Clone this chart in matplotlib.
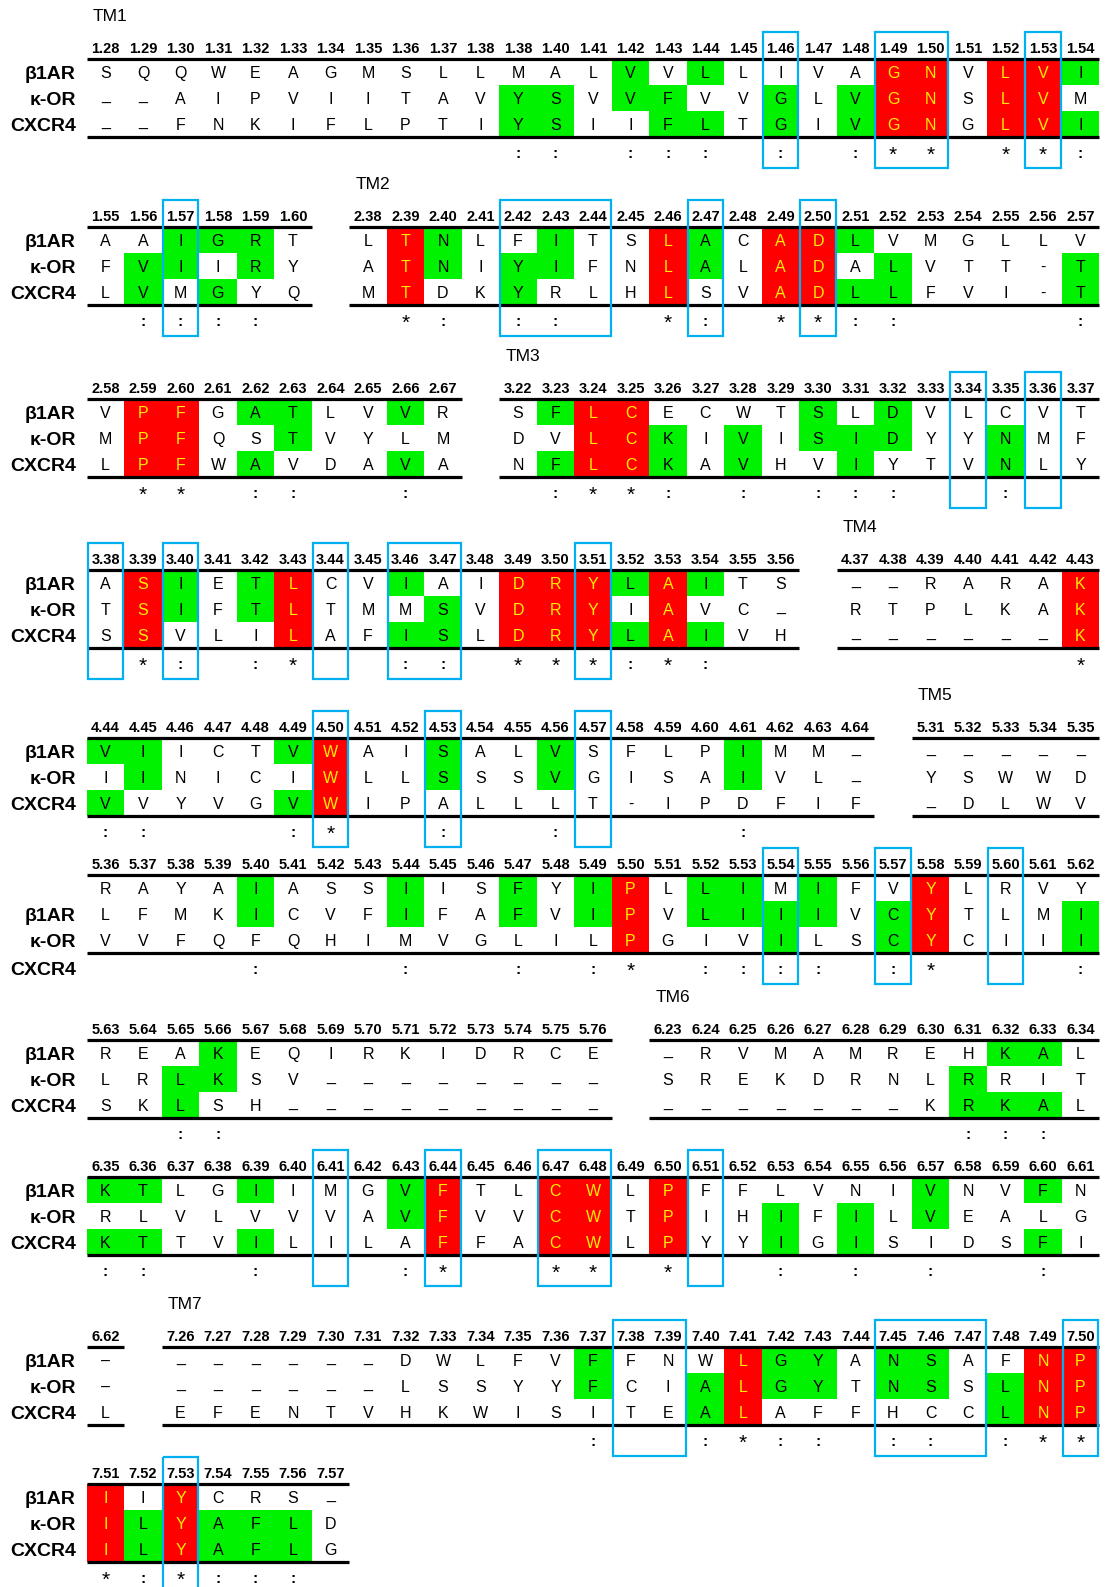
import matplotlib
matplotlib.use("Agg")
import matplotlib.pyplot as plt
from matplotlib.patches import Rectangle

# ---------------------------------------------------------------------------
# Alignment data: one group of named lists per alignment segment.
# Residue rows are β1AR, κ-OR, CXCR4.  Fill codes: g = similar, r = identical.
# ---------------------------------------------------------------------------
NAMES = ["β1AR", "κ-OR", "CXCR4"]

SEG1_POS = ("1.28 1.29 1.30 1.31 1.32 1.33 1.34 1.35 1.36 1.37 1.38 1.38 1.40 1.41 "
            "1.42 1.43 1.44 1.45 1.46 1.47 1.48 1.49 1.50 1.51 1.52 1.53 1.54").split()
SEG1_SEQ = ["SQQWEAGMSLLMALVVLLIVAGNVLVI",
            "__AIPVIITAVYSVVFVVGLVGNSLVM",
            "__FNKIFLPTIYSIIFLTGIVGNGLVI"]
SEG1_FILL = ["..............g.g....rr.rrg",
             "...........gg.gg..g.grr.rr.",
             "...........gg..gg.g.grr.rrg"]
SEG1_CONS = "           :: ::: : :** **:"
SEG1_BOX = [(18, 18), (21, 22), (25, 25)]

SEG2_POS = "1.55 1.56 1.57 1.58 1.59 1.60".split()
SEG2_SEQ = ["AAIGRT", "FVIIRY", "LVMGYQ"]
SEG2_FILL = ["..ggg.", ".gg.g.", ".g.g.."]
SEG2_CONS = " :::: "
SEG2_BOX = [(2, 2)]

SEG3_POS = ("2.38 2.39 2.40 2.41 2.42 2.43 2.44 2.45 2.46 2.47 2.48 2.49 2.50 2.51 "
            "2.52 2.53 2.54 2.55 2.56 2.57").split()
SEG3_SEQ = ["LTNLFITSLACADLVMGLLV",
            "ATNIYIFNLALADALVTT-T",
            "MTDKYRLHLSVADLLFVI-T"]
SEG3_FILL = [".rg..g..rg.rrg......",
             ".rg.gg..rg.rr.g....g",
             ".r..g...r..rrgg....g"]
SEG3_CONS = " *: ::  *: **::    :"
SEG3_BOX = [(4, 6), (9, 9), (12, 12)]

SEG4_POS = "2.58 2.59 2.60 2.61 2.62 2.63 2.64 2.65 2.66 2.67".split()
SEG4_SEQ = ["VPFGATLVVR", "MPFQSTVYLM", "LPFWAVDAVA"]
SEG4_FILL = [".rr.gg..g.", ".rr..g....", ".rr.g...g."]
SEG4_CONS = " ** ::  : "
SEG4_BOX = []

SEG5_POS = ("3.22 3.23 3.24 3.25 3.26 3.27 3.28 3.29 3.30 3.31 3.32 3.33 3.34 3.35 "
            "3.36 3.37").split()
SEG5_SEQ = ["SFLCECWTSLDVLCVT", "DVLCKIVISIDYYNMF", "NFLCKAVHVIYTVNLY"]
SEG5_FILL = [".grr....g.g.....", "..rrg.g.ggg..g..", ".grrg.g..g...g.."]
SEG5_CONS = " :**: : :::  :  "
SEG5_BOX = [(12, 12), (14, 14)]

SEG6_POS = ("3.38 3.39 3.40 3.41 3.42 3.43 3.44 3.45 3.46 3.47 3.48 3.49 3.50 3.51 "
            "3.52 3.53 3.54 3.55 3.56").split()
SEG6_SEQ = ["ASIETLCVIAIDRYLAITS", "TSIFTLTMMSVDRYIAVC_", "SSVLILAFISLDRYLAIVH"]
SEG6_FILL = [".rg.gr..g..rrrgrg..", ".rg.gr...g.rrr.r...", ".r...r..gg.rrrgrg.."]
SEG6_CONS = " *: :*  :: ***:*:  "
SEG6_BOX = [(0, 0), (2, 2), (6, 6), (8, 9), (13, 13)]

SEG7_POS = "4.37 4.38 4.39 4.40 4.41 4.42 4.43".split()
SEG7_SEQ = ["__RARAK", "RTPLKAK", "______K"]
SEG7_FILL = ["......r", "......r", "......r"]
SEG7_CONS = "      *"
SEG7_BOX = []

SEG8_POS = ("4.44 4.45 4.46 4.47 4.48 4.49 4.50 4.51 4.52 4.53 4.54 4.55 4.56 4.57 "
            "4.58 4.59 4.60 4.61 4.62 4.63 4.64").split()
SEG8_SEQ = ["VIICTVWAISALVSFLPIMM_", "IINICIWLLSSSVGISAIVL_", "VVYVGVWIPALLLT-IPDFIF"]
SEG8_FILL = ["gg...gr..g..g....g...", ".g....r..g..g....g...", "g....gr.............."]
SEG8_CONS = "::   :*  :  :    :   "
SEG8_BOX = [(6, 6), (9, 9), (13, 13)]

SEG9_POS = "5.31 5.32 5.33 5.34 5.35".split()
SEG9_SEQ = ["_____", "YSWWD", "_DLWV"]
SEG9_FILL = [".....", ".....", "....."]
SEG9_CONS = "     "
SEG9_BOX = []

SEG10_POS = ("5.36 5.37 5.38 5.39 5.40 5.41 5.42 5.43 5.44 5.45 5.46 5.47 5.48 5.49 "
             "5.50 5.51 5.52 5.53 5.54 5.55 5.56 5.57 5.58 5.59 5.60 5.61 5.62").split()
SEG10_SEQ = ["RAYAIASSIISFYIPLLIMIFVYLRVY",
             "LFMKICVFIFAFVIPVLIIIVCYTLMI",
             "VVFQFQHIMVGLILPGIVILSCYCIII"]
SEG10_FILL = ["....g...g..g.gr.gg.g..r....",
              "....g...g..g.gr.gggg.gr...g",
              "..............r...g..gr...g"]
SEG10_CONS = "    :   :  : :* :::: :*   :"
SEG10_BOX = [(18, 18), (21, 21), (24, 24)]

SEG11_POS = ("5.63 5.64 5.65 5.66 5.67 5.68 5.69 5.70 5.71 5.72 5.73 5.74 5.75 "
             "5.76").split()
SEG11_SEQ = ["REAKEQIRKIDRCE", "LRLKSV________", "SKLSH_________"]
SEG11_FILL = ["...g..........", "..gg..........", "..g..........."]
SEG11_CONS = "  ::          "
SEG11_BOX = []

SEG12_POS = "6.23 6.24 6.25 6.26 6.27 6.28 6.29 6.30 6.31 6.32 6.33 6.34".split()
SEG12_SEQ = ["_RVMAMREHKAL", "SREKDRNLRRIT", "_______KRKAL"]
SEG12_FILL = [".........gg.", "........g...", "........ggg."]
SEG12_CONS = "        ::: "
SEG12_BOX = []

SEG13_POS = ("6.35 6.36 6.37 6.38 6.39 6.40 6.41 6.42 6.43 6.44 6.45 6.46 6.47 6.48 "
             "6.49 6.50 6.51 6.52 6.53 6.54 6.55 6.56 6.57 6.58 6.59 6.60 6.61").split()
SEG13_SEQ = ["KTLGIIMGVFTLCWLPFFLVNIVNVFN",
             "RLVLVVVAVFVVCWTPIHIFILVEALG",
             "KTTVILILAFFACWLPYYIGISIDSFI"]
SEG13_FILL = ["gg..g...gr..rr.r......g..g.",
              "........gr..rr.r..g.g.g....",
              "gg..g....r..rr.r..g.g....g."]
SEG13_CONS = "::  :   :*  ** *  : : :  : "
SEG13_BOX = [(6, 6), (9, 9), (12, 13), (16, 16)]

SEG14_POS = ["6.62"]
SEG14_SEQ = ["–", "–", "L"]
SEG14_FILL = [".", ".", "."]
SEG14_CONS = " "
SEG14_BOX = []

SEG15_POS = ("7.26 7.27 7.28 7.29 7.30 7.31 7.32 7.33 7.34 7.35 7.36 7.37 7.38 7.39 "
             "7.40 7.41 7.42 7.43 7.44 7.45 7.46 7.47 7.48 7.49 7.50").split()
SEG15_SEQ = ["______DWLFVFFNWLGYANSAFNP",
             "______LSSYYFCIALGYTNSSLNP",
             "EFENTVHKWISITEALAFFHCCLNP"]
SEG15_FILL = ["...........g...rgg.gg..rr",
              "...........g..grgg.gg.grr",
              "..............gr......grr"]
SEG15_CONS = "           :  :*:: :: :**"
SEG15_BOX = [(12, 13), (19, 21), (24, 24)]

SEG16_POS = "7.51 7.52 7.53 7.54 7.55 7.56 7.57".split()
SEG16_SEQ = ["IIYCRS_", "ILYAFLD", "ILYAFLG"]
SEG16_FILL = ["r.r....", "rgrggg.", "rgrggg."]
SEG16_CONS = "*:*::: "
SEG16_BOX = [(2, 2)]

# ---------------------------------------------------------------------------
# Page layout (pixels): top rule of each block, and where each segment sits
# ---------------------------------------------------------------------------
W, H = 1105, 1587
X0, DX = 105.5, 37.5        # centre of grid column 0 and column pitch
ROW_H = 26
BLOCK_TOPS = [59, 227, 399, 570, 738, 875, 1040, 1177, 1347, 1484]

# (block, first grid column, segment, helix label)
LAYOUT = [
    (0, 0, (SEG1_POS, SEG1_SEQ, SEG1_FILL, SEG1_CONS, SEG1_BOX), "TM1"),
    (1, 0, (SEG2_POS, SEG2_SEQ, SEG2_FILL, SEG2_CONS, SEG2_BOX), None),
    (1, 7, (SEG3_POS, SEG3_SEQ, SEG3_FILL, SEG3_CONS, SEG3_BOX), "TM2"),
    (2, 0, (SEG4_POS, SEG4_SEQ, SEG4_FILL, SEG4_CONS, SEG4_BOX), None),
    (2, 11, (SEG5_POS, SEG5_SEQ, SEG5_FILL, SEG5_CONS, SEG5_BOX), "TM3"),
    (3, 0, (SEG6_POS, SEG6_SEQ, SEG6_FILL, SEG6_CONS, SEG6_BOX), None),
    (3, 20, (SEG7_POS, SEG7_SEQ, SEG7_FILL, SEG7_CONS, SEG7_BOX), "TM4"),
    (4, 0, (SEG8_POS, SEG8_SEQ, SEG8_FILL, SEG8_CONS, SEG8_BOX), None),
    (4, 22, (SEG9_POS, SEG9_SEQ, SEG9_FILL, SEG9_CONS, SEG9_BOX), "TM5"),
    (5, 0, (SEG10_POS, SEG10_SEQ, SEG10_FILL, SEG10_CONS, SEG10_BOX), None),
    (6, 0, (SEG11_POS, SEG11_SEQ, SEG11_FILL, SEG11_CONS, SEG11_BOX), None),
    (6, 15, (SEG12_POS, SEG12_SEQ, SEG12_FILL, SEG12_CONS, SEG12_BOX), "TM6"),
    (7, 0, (SEG13_POS, SEG13_SEQ, SEG13_FILL, SEG13_CONS, SEG13_BOX), None),
    (8, 0, (SEG14_POS, SEG14_SEQ, SEG14_FILL, SEG14_CONS, SEG14_BOX), None),
    (8, 2, (SEG15_POS, SEG15_SEQ, SEG15_FILL, SEG15_CONS, SEG15_BOX), "TM7"),
    (9, 0, (SEG16_POS, SEG16_SEQ, SEG16_FILL, SEG16_CONS, SEG16_BOX), None),
]

FILL_COLORS = {"g": "#00F200", "r": "#FF0000"}
TEXT_ON_RED = "#FFEE00"
BOX_COLOR = "#00B0F0"
FONT = "Liberation Sans"

PX_PER_PT = 100 / 72.0
CAP = 0.716


def baseline(center_y, size):
    """Baseline y that vertically centres capital letters of the given size."""
    return center_y + CAP * size * PX_PER_PT / 2


fig = plt.figure(figsize=(W / 100, H / 100), dpi=100)
ax = fig.add_axes([0, 0, 1, 1])
ax.set_xlim(0, W)
ax.set_ylim(H, 0)
ax.axis("off")

RES_FS, HEAD_FS, NAME_FS, TM_FS = 11.5, 10.5, 14, 12.5


def col_x(c):
    return X0 + c * DX


def draw_segment(top, c0, seg, tm):
    pos, seqs, fills, cons, boxes = seg
    n = len(pos)
    left = col_x(c0) - DX / 2
    right = col_x(c0 + n - 1) + DX / 2

    for r in range(3):
        yc = top + (r + 0.5) * ROW_H
        for j in range(n):
            code = fills[r][j]
            if code in FILL_COLORS:
                ax.add_patch(Rectangle((col_x(c0 + j) - DX / 2, top + r * ROW_H),
                                       DX, ROW_H, facecolor=FILL_COLORS[code],
                                       edgecolor="none", zorder=1))
            ch = seqs[r][j]
            color = TEXT_ON_RED if code == "r" else "black"
            yb = baseline(yc, RES_FS)
            if ch == "_":
                yb -= 3
            ax.text(col_x(c0 + j), yb, ch, ha="center", va="baseline",
                    fontsize=RES_FS, family=FONT, color=color, zorder=3)

    for yl in (top, top + 3 * ROW_H):
        ax.plot([left, right], [yl, yl], color="black", lw=2.3,
                solid_capstyle="butt", zorder=3)

    for j, p in enumerate(pos):
        ax.text(col_x(c0 + j), baseline(top - 11, HEAD_FS), p, ha="center",
                va="baseline", fontsize=HEAD_FS, family=FONT, weight="bold",
                zorder=3)

    ycons = top + 95
    for j, s in enumerate(cons):
        if s == "*":
            ax.text(col_x(c0 + j), ycons + 1, "*", ha="center", va="center",
                    fontsize=15, family=FONT, zorder=3)
        elif s == ":":
            ax.text(col_x(c0 + j), ycons, ":", ha="center", va="center",
                    fontsize=11, family=FONT, weight="bold", zorder=3)

    for a, b in boxes:
        ax.add_patch(Rectangle((col_x(c0 + a) - DX / 2 + 1, top - 27),
                               (b - a + 1) * DX - 2, 136, fill=False,
                               edgecolor=BOX_COLOR, lw=1.6, zorder=4))

    if tm:
        ax.text(left + 6, baseline(top - 44, TM_FS), tm, ha="left",
                va="baseline", fontsize=TM_FS, family=FONT, zorder=3)


for blk, c0, seg, tm in LAYOUT:
    draw_segment(BLOCK_TOPS[blk], c0, seg, tm)

# Sequence names at the left of every block
for blk, top in enumerate(BLOCK_TOPS):
    if blk == 5:
        ys = [top + 39, top + 65, top + 93]
    else:
        ys = [top + 13, top + 39, top + 65]
    for name, y in zip(NAMES, ys):
        ax.text(76, baseline(y, NAME_FS), name, ha="right", va="baseline",
                fontsize=NAME_FS, family=FONT, weight="bold", zorder=3)

fig.savefig("out.png", dpi=100, facecolor="white")
